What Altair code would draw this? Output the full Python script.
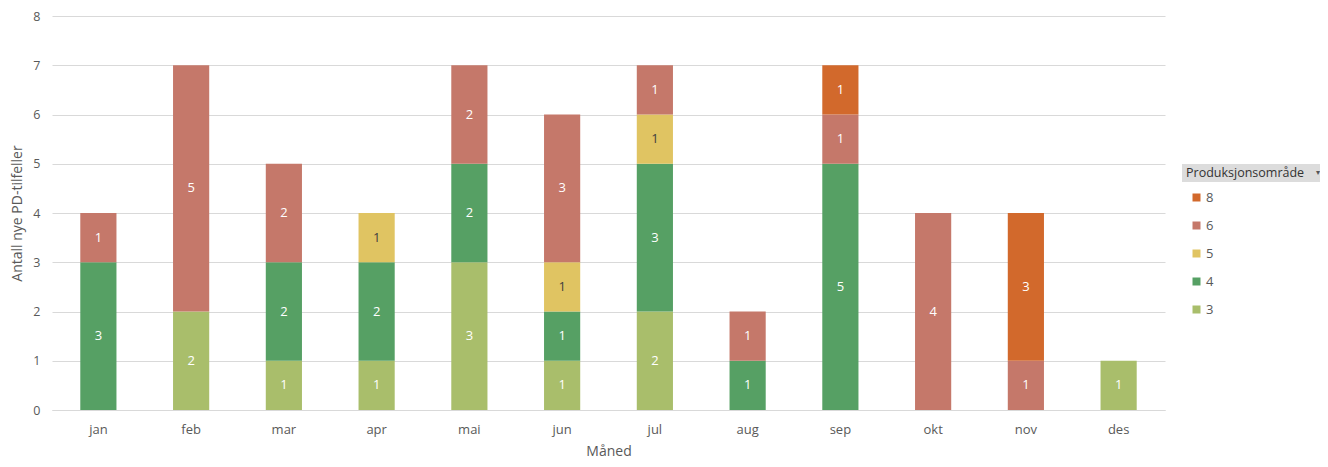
import altair as alt
import pandas as pd

months = ["jan", "feb", "mar", "apr", "mai", "jun", "jul", "aug", "sep", "okt", "nov", "des"]
areas = ["3", "4", "5", "6", "8"]
area_colors = ["#A9BE6B", "#56A064", "#E0C462", "#C5786A", "#D2692C"]
vals_3 = [0, 2, 1, 1, 3, 1, 2, 0, 0, 0, 0, 1]
vals_4 = [3, 0, 2, 2, 2, 1, 3, 1, 5, 0, 0, 0]
vals_5 = [0, 0, 0, 1, 0, 1, 1, 0, 0, 0, 0, 0]
vals_6 = [1, 5, 2, 0, 2, 3, 1, 1, 1, 4, 1, 0]
vals_8 = [0, 0, 0, 0, 0, 0, 0, 0, 1, 0, 3, 0]
y_ticks = [0, 1, 2, 3, 4, 5, 6, 7, 8]
legend_title = "Produksjonsområde"

series = {"3": vals_3, "4": vals_4, "5": vals_5, "6": vals_6, "8": vals_8}
rows = []
for a_i, a in enumerate(areas):
    for m_i, m in enumerate(months):
        v = series[a][m_i]
        if v > 0:
            rows.append({"Måned": m, "area": a, "ord": a_i, "n": v})
df = pd.DataFrame(rows)

FONT = "Open Sans"
W, H = 1113, 394

base = alt.Chart(df).transform_stack(
    stack="n", groupby=["Måned"], as_=["y0", "y1"], sort=[alt.SortField("ord", order="ascending")]
).transform_calculate(mid="(datum.y0 + datum.y1) / 2")

xaxis = alt.Axis(labelAngle=0, ticks=False, domainColor="#D9D9D9", labelPadding=13,
                 labelColor="#595959", labelFontSize=13, labelFont=FONT,
                 titleColor="#595959", titleFontSize=14, titleFont=FONT,
                 titleFontWeight="normal", titlePadding=8)
yaxis = alt.Axis(values=y_ticks, ticks=False, domain=False, gridColor="#D9D9D9",
                 labelOverlap=False,
                 labelColor="#595959", labelFontSize=12.5, labelFont=FONT, labelPadding=12,
                 titleColor="#595959", titleFontSize=14, titleFont=FONT,
                 titleFontWeight="normal", titlePadding=8)
xscale = alt.Scale(paddingInner=0.61, paddingOuter=0.305)
yscale = alt.Scale(domain=[0, 8])
ytitle = "Antall nye PD-tilfeller"

bars = base.mark_bar(stroke=None).encode(
    x=alt.X("Måned:N", sort=months, title="Måned", scale=xscale, axis=xaxis),
    y=alt.Y("y0:Q", title=ytitle, scale=yscale, axis=yaxis),
    y2="y1:Q",
    color=alt.Color("area:N", scale=alt.Scale(domain=["8", "6", "5", "4", "3"],
                                              range=["#D2692C", "#C5786A", "#E0C462", "#56A064", "#A9BE6B"]),
                    legend=alt.Legend(title=None, orient="none", legendX=1138, legendY=175,
                                      symbolType="square", symbolSize=64, symbolStrokeWidth=0,
                                      labelColor="#595959", labelFontSize=13, labelFont=FONT,
                                      rowPadding=14, labelOffset=3)),
)

labels = base.mark_text(fontSize=13, font=FONT).encode(
    x=alt.X("Måned:N", sort=months, title="Måned", scale=xscale, axis=xaxis),
    y=alt.Y("mid:Q", title=ytitle, scale=yscale, axis=yaxis),
    text=alt.Text("n:Q"),
    color=alt.condition(alt.datum.area == "5", alt.value("#404040"), alt.value("#FFFFFF")),
)

hdr_df = pd.DataFrame({"t": [legend_title]})
hdr_rect = alt.Chart(hdr_df).mark_rect(color="#DCDCDC").encode(
    x=alt.value(1130), x2=alt.value(1280), y=alt.value(148), y2=alt.value(166))
hdr_text = alt.Chart(hdr_df).mark_text(align="left", baseline="middle", fontSize=12.5, font=FONT,
                                       color="#333333").encode(
    x=alt.value(1134), y=alt.value(157), text="t:N")
hdr_arrow = alt.Chart(hdr_df).mark_text(align="left", baseline="middle", fontSize=8, font=FONT,
                                        color="#555555").encode(
    x=alt.value(1264), y=alt.value(157), text=alt.value("▾"))

chart = alt.layer(bars, labels, hdr_rect, hdr_text, hdr_arrow).properties(
    width=W, height=H,
    autosize=alt.AutoSizeParams(type="none"),
    padding={"left": 44, "top": 8, "right": 155, "bottom": 49},
).configure(background="white", view=alt.ViewConfig(stroke=None))

chart.save("out.html", embed_options={"renderer": "svg", "actions": False})
